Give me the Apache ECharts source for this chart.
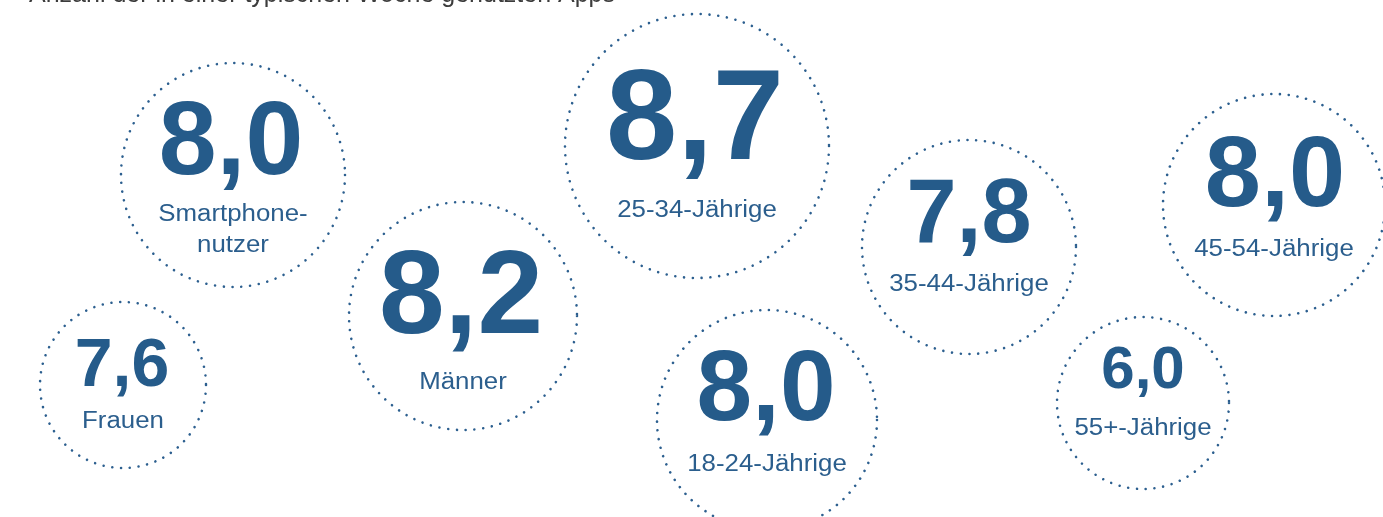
<!DOCTYPE html>
<html>
<head>
<meta charset="utf-8">
<script src="https://cdn.jsdelivr.net/npm/echarts@6/dist/echarts.min.js"></script>
<style>
html,body{margin:0;padding:0;background:#fff;}
#chart{width:1383px;height:517px;}
</style>
</head>
<body>
<div id="chart"></div>
<script>
// ---- data ----
const titleText = 'Anzahl der in einer typischen Woche genutzten Apps';
const categories = ['Smartphone-\nnutzer', 'Frauen', 'Männer', '25-34-Jährige', '18-24-Jährige', '35-44-Jährige', '45-54-Jährige', '55+-Jährige'];
const values = [8.0, 7.6, 8.2, 8.7, 8.0, 7.8, 8.0, 6.0];

// ---- layout (bubble placement, pixel-like coordinates on hidden axes) ----
const bubbleX = [233, 123, 463, 697, 767, 969, 1274, 1143];
const bubbleY = [175, 385, 316, 146, 420, 247, 205, 403];
const bubbleR = [112, 83, 114, 132, 110, 107, 111, 86];
const numberSize = [104, 68, 118, 128, 100, 90, 101, 60];
const numberDx = [-2, -1, -2, -2, -1, 0, 1, 0];
const numberBaseDy = [5, 5, 24, 21, 6, 0, 7, -11];
const labelBaseDy = [47, 44, 74, 72, 52, 45, 52, 33];
const labelSize = 23.5;
const labelStretch = 1.1;
const labelLineGap = 31;
const BASE_K = 0.335;

const NUM_COLOR = '#255b8a';
const LABEL_COLOR = '#2b5e8d';
const DOT_COLOR = '#2c5f8f';
const FONT = '"Liberation Sans", Arial, Helvetica, sans-serif';

const seriesData = values.map((v, i) => [bubbleX[i], bubbleY[i], v, i]);

const chart = echarts.init(document.getElementById('chart'), null, {renderer: 'canvas'});

function fmt(v) { return v.toFixed(1).replace('.', ','); }

const option = {
  animation: false,
  backgroundColor: '#ffffff',
  grid: {left: 0, right: 0, top: 0, bottom: 0, containLabel: false},
  xAxis: {type: 'value', min: 0, max: 1383, show: false},
  yAxis: {type: 'value', min: 0, max: 517, inverse: true, show: false},
  graphic: [{
    type: 'text',
    left: 29,
    top: -17,
    style: {
      text: titleText,
      font: '25px ' + FONT,
      fill: '#3c3c3c'
    }
  }],
  series: [{
    type: 'custom',
    coordinateSystem: 'cartesian2d',
    data: seriesData,
    clip: false,
    renderItem: function (params, api) {
      const idx = api.value(3);
      const c = api.coord([api.value(0), api.value(1)]);
      const r0 = api.size([bubbleR[idx], 0])[0];
      const children = [{
        type: 'circle',
        shape: {cx: c[0], cy: c[1], r: r0},
        style: {
          fill: 'none',
          stroke: DOT_COLOR,
          lineWidth: 2.6,
          lineDash: [0.01, 8.8],
          lineCap: 'round'
        }
      }];
      const F = numberSize[idx];
      children.push({
        type: 'text',
        style: {
          text: fmt(api.value(2)),
          x: c[0] + numberDx[idx],
          y: c[1] + numberBaseDy[idx] - BASE_K * F,
          font: 'bold ' + F + 'px ' + FONT,
          fill: NUM_COLOR,
          align: 'center',
          verticalAlign: 'middle'
        }
      });
      const lines = categories[idx].split('\n');
      lines.forEach(function (ln, k) {
        children.push({
          type: 'text',
          x: c[0],
          y: c[1] + labelBaseDy[idx] + k * labelLineGap - BASE_K * labelSize,
          scaleX: labelStretch,
          style: {
            text: ln,
            x: 0,
            y: 0,
            font: labelSize + 'px ' + FONT,
            fill: LABEL_COLOR,
            align: 'center',
            verticalAlign: 'middle'
          }
        });
      });
      return {type: 'group', children: children};
    }
  }]
};
chart.setOption(option);
</script>
</body>
</html>
